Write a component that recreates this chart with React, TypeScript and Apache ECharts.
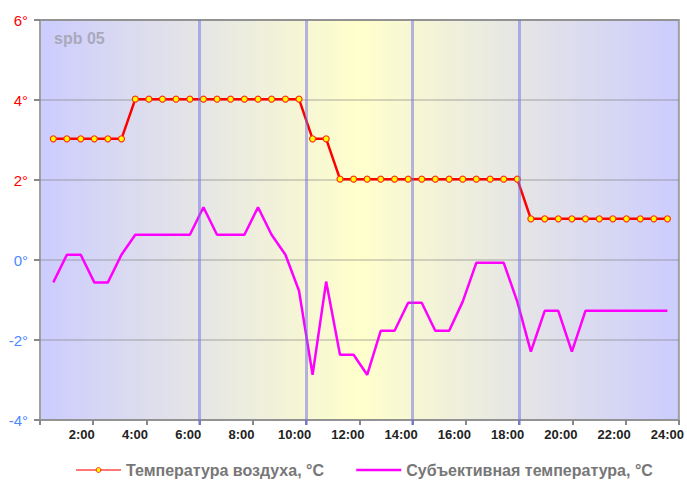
import React, { useEffect, useRef } from "react";
import * as echarts from "echarts";

// Hours of day for each reading
const hours = [
  0.5, 1.01, 1.53, 2.04, 2.55, 3.06, 3.58, 4.09, 4.6, 5.11, 5.63, 6.14, 6.65,
  7.16, 7.68, 8.19, 8.7, 9.22, 9.73, 10.24, 10.75, 11.27, 11.78, 12.29, 12.8,
  13.32, 13.83, 14.34, 14.85, 15.37, 15.88, 16.39, 16.91, 17.42, 17.93, 18.44,
  18.96, 19.47, 19.98, 20.49, 21.01, 21.52, 22.03, 22.55, 23.06, 23.57,
];

const airTemp = [
  3.03, 3.03, 3.03, 3.03, 3.03, 3.03,
  4.02, 4.02, 4.02, 4.02, 4.02, 4.02, 4.02, 4.02, 4.02, 4.02, 4.02, 4.02, 4.02,
  3.03, 3.03,
  2.02, 2.02, 2.02, 2.02, 2.02, 2.02, 2.02, 2.02, 2.02, 2.02, 2.02, 2.02, 2.02, 2.02,
  1.03, 1.03, 1.03, 1.03, 1.03, 1.03, 1.03, 1.03, 1.03, 1.03, 1.03,
];

const feelsLike = [
  -0.56, 0.13, 0.13, -0.56, -0.56, 0.13, 0.63, 0.63, 0.63, 0.63, 0.63, 1.32,
  0.63, 0.63, 0.63, 1.32, 0.63, 0.13, -0.77, -2.87, -0.54, -2.37, -2.37, -2.87,
  -1.77, -1.77, -1.07, -1.07, -1.77, -1.77, -1.04, -0.07, -0.07, -0.07, -1.04,
  -2.29, -1.27, -1.27, -2.29, -1.27, -1.27, -1.27, -1.27, -1.27, -1.27, -1.27,
];

const markerHours = [6, 10, 14, 18];
const seriesNames = ["Температура воздуха, °C", "Субъективная температура, °C"];
const stationLabel = "spb 05";

const FONT = "'Liberation Sans', Arial, sans-serif";

export default function App() {
  const ref = useRef<HTMLDivElement>(null);
  useEffect(() => {
    document.body.style.margin = "0";
    if (!ref.current) return;
    const chart = echarts.init(ref.current, null, { renderer: "svg" });
    const markColor = "rgba(110,110,230,0.5)";
    chart.setOption({
      animation: false,
      title: {
        text: stationLabel,
        left: 54,
        top: 30,
        padding: 0,
        textStyle: { color: "#a9a9bb", fontSize: 16, fontWeight: "bold", fontFamily: FONT },
      },
      grid: {
        left: 40,
        right: 7,
        top: 20,
        bottom: 67,
        show: true,
        borderColor: "#a0a0a0",
        borderWidth: 2,
        backgroundColor: new echarts.graphic.LinearGradient(0, 0, 1, 0, [
          { offset: 0, color: "#ccccff" },
          { offset: 0.5, color: "#ffffcc" },
          { offset: 1, color: "#ccccff" },
        ]),
      },
      legend: {
        left: 75,
        top: 462,
        padding: 0,
        itemWidth: 45,
        itemHeight: 6,
        itemGap: 31,
        textStyle: { color: "#777", fontSize: 16, fontWeight: "bold", fontFamily: FONT },
        data: [
          {
            name: seriesNames[0],
            lineStyle: { color: "#ff7777", width: 2 },
            itemStyle: { color: "#ffff00", borderColor: "#ff2200", borderWidth: 1 },
          },
          {
            name: seriesNames[1],
            lineStyle: { color: "#ff00ff", width: 2.5 },
            itemStyle: { opacity: 0 },
          },
        ],
      },
      xAxis: [
        {
          type: "value",
          min: 0,
          max: 24,
          interval: 2,
          axisLine: { show: false, onZero: false },
          axisTick: { show: true, length: 5, lineStyle: { color: "#888", width: 2 } },
          splitLine: { show: false },
          axisLabel: {
            margin: 8,
            color: "#222",
            fontSize: 13,
            fontWeight: "bold",
            fontFamily: FONT,
            padding: [0, 23, 0, 0],
            formatter: (v: number) => (v === 0 ? "" : `${v}:00`),
          },
        },
        {
          type: "value",
          min: 0,
          max: 24,
          position: "bottom",
          axisLine: { show: false, onZero: false },
          axisLabel: { show: false },
          splitLine: { show: false },
          axisTick: {
            show: true,
            length: 5,
            customValues: markerHours,
            lineStyle: { color: markColor, width: 3 },
          },
        },
      ],
      yAxis: {
        type: "value",
        min: -4,
        max: 6,
        interval: 2,
        axisLine: { show: false, onZero: false },
        axisTick: { show: true, length: 6, lineStyle: { color: "#888", width: 2 } },
        splitLine: { show: true, lineStyle: { color: "rgba(120,120,120,0.3)", width: 2 } },
        axisLabel: {
          margin: 12,
          fontSize: 15,
          fontFamily: FONT,
          formatter: (v: number) => `${v}°`,
          color: (v: any) => (Number(v) > 0 ? "#ff0000" : "#4d88ff"),
        },
      },
      series: [
        {
          type: "line",
          name: "markers",
          data: [],
          z: 1,
          silent: true,
          markLine: {
            symbol: "none",
            silent: true,
            label: { show: false },
            lineStyle: { color: markColor, width: 3, type: "solid" },
            data: markerHours.map((h) => ({ xAxis: h })),
          },
        },
        {
          type: "line",
          name: seriesNames[0],
          z: 4,
          data: hours.map((h, i) => [h, airTemp[i]]),
          symbol: "circle",
          symbolSize: 6,
          showSymbol: true,
          lineStyle: { color: "#ff0000", width: 2.5 },
          itemStyle: { color: "#ffff00", borderColor: "#ff3311", borderWidth: 1.2 },
        },
        {
          type: "line",
          name: seriesNames[1],
          z: 3,
          data: hours.map((h, i) => [h, feelsLike[i]]),
          symbol: "none",
          lineStyle: { color: "#ff00ff", width: 2.5 },
          itemStyle: { color: "#ff00ff" },
        },
      ],
    });
    return () => chart.dispose();
  }, []);
  return <div ref={ref} style={{ width: 687, height: 487 }} />;
}
